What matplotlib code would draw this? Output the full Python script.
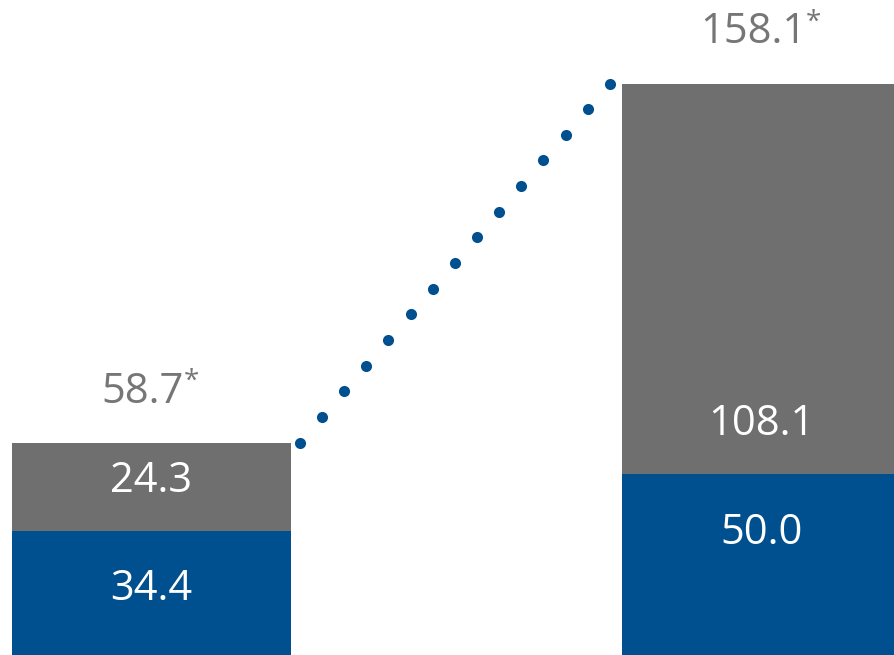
import numpy as np
import matplotlib.pyplot as plt

# data
bar_pos = [0, 1]
lower_vals = [34.4, 50.0]      # blue part
upper_vals = [24.3, 108.1]     # grey part
totals = [58.7, 158.1]
total_labels = ["58.7", "158.1"]

blue = "#00508f"
grey = "#6f6f6f"
label_grey = "#767676"
font = "Open Sans"
width = 0.457

fig = plt.figure(figsize=(8.95, 6.55), dpi=100)
ax = fig.add_axes([0, 0, 1, 1])

ax.bar(bar_pos, lower_vals, width=width, color=blue, linewidth=0)
ax.bar(bar_pos, upper_vals, bottom=lower_vals, width=width, color=grey, linewidth=0)

for x, lo, up, tot, lab in zip(bar_pos, lower_vals, upper_vals, totals, total_labels):
    # value labels sit at fixed distance from the boundary between segments
    ax.annotate(f"{up:.1f}", xy=(x, lo), xytext=(0, 28), textcoords="offset points",
                ha="center", va="baseline", color="white", fontsize=30, family=font)
    ax.annotate(f"{lo:.1f}", xy=(x, lo), xytext=(0, -50), textcoords="offset points",
                ha="center", va="baseline", color="white", fontsize=30, family=font)
    t = ax.annotate(lab, xy=(x, tot), xytext=(-6, 29), textcoords="offset points",
                    ha="center", va="baseline", color=label_grey, fontsize=30,
                    family=font)
    # small raised asterisk
    ax.annotate("*", xy=(1, 1), xycoords=t, xytext=(0, 2), textcoords="offset points",
                ha="left", va="top", color=label_grey, fontsize=20, family=font)

# dotted connector between bar tops
x_start = bar_pos[0] + width / 2 + 0.015
x_end = bar_pos[1] - width / 2 - 0.02
xs = np.linspace(x_start, x_end, 15)
ys = np.linspace(totals[0], totals[1], 15)
ax.plot(xs, ys, linestyle="none", marker="o", markersize=8.0, color=blue,
        markeredgewidth=0)

ax.set_xlim(-0.248, 1.219)
ax.set_ylim(0, 181.2)
ax.axis("off")

fig.savefig("out.png", dpi=100)
